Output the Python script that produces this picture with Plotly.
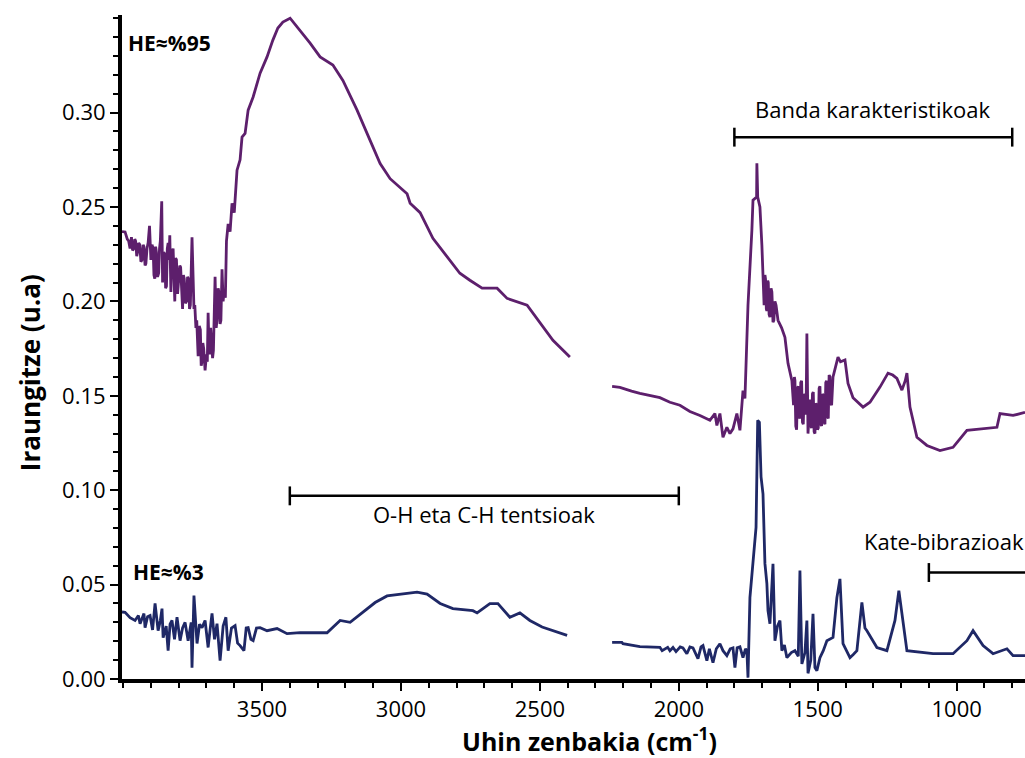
import plotly.graph_objects as go

# ---------------- data ----------------
# HE≈%95 spectrum (purple), segment 1 (4000 -> 2400 cm-1)
he95_wn_a = [4004, 3993, 3985, 3980, 3975, 3970, 3966, 3962, 3958, 3955, 3951, 3948, 3944, 3940, 3936,
             3932, 3928, 3925, 3921, 3918, 3914, 3910, 3905, 3900, 3896, 3892, 3889, 3886, 3883, 3880,
             3876, 3872, 3869, 3866, 3861, 3858, 3854, 3850, 3847, 3844, 3841, 3838, 3835, 3832, 3828,
             3824, 3820, 3817, 3814, 3811, 3808, 3804, 3800, 3796, 3793, 3789, 3786, 3783, 3780, 3776,
             3772, 3768, 3765, 3761, 3758, 3752, 3748, 3745, 3742, 3738, 3735, 3730, 3726, 3722, 3719,
             3716, 3713, 3710, 3705, 3700, 3697, 3694, 3691, 3688, 3685, 3682, 3678, 3675, 3669, 3665,
             3662, 3658, 3655, 3651, 3648, 3644, 3640, 3637, 3632, 3628, 3622, 3615, 3608, 3600, 3590,
             3579, 3572, 3561, 3550, 3532, 3507, 3482, 3461, 3443, 3425, 3399, 3363, 3327, 3291, 3245,
             3209, 3158, 3122, 3075, 3039, 2978, 2967, 2931, 2885, 2834, 2788, 2752, 2708, 2654, 2618,
             2546, 2500, 2453, 2392]
he95_ab_a = [0.237, 0.2368, 0.233, 0.232, 0.228, 0.234, 0.227, 0.228, 0.233, 0.232, 0.224, 0.226, 0.231, 0.230, 0.221,
             0.222, 0.230, 0.229, 0.219, 0.220, 0.228, 0.231, 0.240, 0.222, 0.230, 0.228, 0.214, 0.212, 0.229, 0.226,
             0.213, 0.215, 0.228, 0.232, 0.253, 0.210, 0.226, 0.225, 0.207, 0.208, 0.228, 0.231, 0.222, 0.235, 0.205,
             0.226, 0.228, 0.203, 0.200, 0.223, 0.222, 0.204, 0.210, 0.219, 0.218, 0.199, 0.196, 0.214, 0.212, 0.199,
             0.200, 0.213, 0.212, 0.196, 0.198, 0.234, 0.204, 0.196, 0.198, 0.186, 0.190, 0.171, 0.187, 0.185, 0.166,
             0.168, 0.178, 0.175, 0.1635, 0.172, 0.168, 0.194, 0.176, 0.172, 0.186, 0.180, 0.170, 0.174, 0.213, 0.186,
             0.190, 0.207, 0.205, 0.188, 0.190, 0.217, 0.200, 0.205, 0.202, 0.232, 0.241, 0.237, 0.252, 0.247, 0.2695,
             0.275, 0.287, 0.289, 0.3013, 0.3083, 0.3209, 0.3295, 0.3384, 0.3448, 0.348, 0.350, 0.3437, 0.3368, 0.3295, 0.3252,
             0.317, 0.3013, 0.289, 0.273, 0.265, 0.257, 0.252, 0.247, 0.2334, 0.2236, 0.2149, 0.2112, 0.207, 0.207, 0.2016,
             0.198, 0.189, 0.1794, 0.1705]

# HE≈%95 spectrum (purple), segment 2 (2250 -> 750 cm-1)
he95_wn_b = [2240, 2212, 2170, 2140, 2068, 2032, 1996, 1960, 1924, 1888, 1870, 1863, 1852, 1841, 1827,
             1816, 1805, 1791, 1780, 1773, 1769, 1762, 1758, 1751, 1737, 1733, 1720, 1719, 1716, 1708,
             1701, 1697, 1693, 1690, 1688, 1685, 1683, 1680, 1678, 1675, 1672, 1668, 1665, 1661, 1658,
             1654, 1650, 1643, 1630, 1618, 1607, 1593, 1590, 1587, 1584, 1582, 1579, 1576, 1573, 1570,
             1567, 1564, 1561, 1558, 1555, 1552, 1549, 1546, 1542, 1539, 1535, 1531, 1528, 1525, 1522,
             1519, 1516, 1513, 1510, 1507, 1504, 1501, 1498, 1495, 1492, 1489, 1486, 1483, 1480, 1477,
             1474, 1471, 1468, 1465, 1462, 1459, 1456, 1453, 1450, 1445, 1427, 1418, 1402, 1391, 1373,
             1337, 1312, 1276, 1247, 1230, 1215, 1197, 1185, 1179, 1168, 1143, 1107, 1060, 1013, 963,
             891, 855, 844, 797, 754]
he95_ab_b = [0.155, 0.1545, 0.1525, 0.1513, 0.149, 0.1466, 0.145, 0.1417, 0.1396, 0.137, 0.1406, 0.1343, 0.1406, 0.128, 0.1333,
             0.130, 0.1325, 0.1406, 0.1317, 0.1466, 0.1528, 0.1486, 0.1705, 0.198, 0.2377, 0.2536, 0.2553, 0.2732, 0.2553, 0.250,
             0.2299, 0.2128, 0.198, 0.214, 0.212, 0.196, 0.195, 0.211, 0.210, 0.193, 0.1917, 0.207, 0.205, 0.189, 0.190,
             0.200, 0.198, 0.190, 0.186, 0.181, 0.1672, 0.158, 0.147, 0.145, 0.160, 0.158, 0.134, 0.132, 0.154, 0.155,
             0.139, 0.138, 0.157, 0.158, 0.136, 0.135, 0.151, 0.150, 0.140, 0.183, 0.130, 0.146, 0.148, 0.134, 0.133,
             0.151, 0.152, 0.131, 0.130, 0.146, 0.145, 0.132, 0.133, 0.154, 0.155, 0.135, 0.134, 0.151, 0.150, 0.136,
             0.135, 0.157, 0.158, 0.139, 0.138, 0.161, 0.160, 0.146, 0.145, 0.160, 0.1705, 0.168, 0.169, 0.1566, 0.149,
             0.144, 0.1466, 0.1546, 0.162, 0.161, 0.1592, 0.153, 0.158, 0.162, 0.144, 0.128, 0.1237, 0.121, 0.1227, 0.1317,
             0.1327, 0.1333, 0.1406, 0.1396, 0.1412]

# HE≈%3 spectrum (navy), segment 1
he3_wn_a = [4004, 3993, 3975, 3957, 3945, 3939, 3925, 3921, 3912, 3903, 3894, 3885, 3874, 3866, 3860,
            3856, 3845, 3838, 3831, 3824, 3815, 3806, 3795, 3786, 3777, 3766, 3755, 3752, 3745, 3734,
            3725, 3716, 3705, 3694, 3687, 3680, 3671, 3662, 3651, 3640, 3630, 3622, 3610, 3597, 3588,
            3579, 3565, 3557, 3550, 3540, 3532, 3520, 3507, 3482, 3446, 3410, 3363, 3300, 3266, 3219,
            3183, 3093, 3050, 2942, 2906, 2859, 2813, 2741, 2726, 2680, 2651, 2608, 2572, 2536, 2492,
            2402]
he3_ab_a = [0.0355, 0.0353, 0.0325, 0.031, 0.0336, 0.0293, 0.0347, 0.0272, 0.033, 0.0336, 0.026, 0.040, 0.0256, 0.031, 0.0373,
            0.0219, 0.028, 0.015, 0.029, 0.031, 0.021, 0.0327, 0.0203, 0.027, 0.030, 0.0203, 0.030, 0.006, 0.0442, 0.0188,
            0.029, 0.0272, 0.031, 0.0167, 0.026, 0.0347, 0.021, 0.0293, 0.0097, 0.028, 0.0327, 0.015, 0.027, 0.0283, 0.019,
            0.0177, 0.015, 0.027, 0.0272, 0.021, 0.0203, 0.027, 0.0272, 0.0256, 0.0267, 0.024, 0.0246, 0.0245, 0.0245, 0.031,
            0.030, 0.0405, 0.044, 0.046, 0.045, 0.040, 0.0373, 0.0362, 0.035, 0.0399, 0.0399, 0.0327, 0.035, 0.031, 0.0275,
            0.0231]

# HE≈%3 spectrum (navy), segment 2
he3_wn_b = [2240, 2205, 2201, 2140, 2068, 2060, 2040, 2032, 2021, 2010, 1995, 1985, 1971, 1960, 1949,
            1931, 1920, 1913, 1899, 1890, 1877, 1865, 1852, 1841, 1827, 1815, 1805, 1798, 1790, 1780,
            1769, 1760, 1755, 1751, 1744, 1733, 1722, 1716, 1710, 1704, 1697, 1690, 1683, 1679, 1672,
            1663, 1661, 1654, 1645, 1636, 1629, 1620, 1611, 1595, 1582, 1570, 1564, 1557, 1550, 1546,
            1539, 1535, 1525, 1517, 1510, 1503, 1492, 1480, 1467, 1445, 1431, 1420, 1409, 1395, 1384,
            1372, 1359, 1341, 1330, 1323, 1287, 1251, 1222, 1208, 1197, 1179, 1085, 1013, 963, 941,
            905, 869, 819, 797, 754]
he3_ab_b = [0.0194, 0.0194, 0.0187, 0.0171, 0.0168, 0.015, 0.0168, 0.015, 0.0167, 0.0145, 0.017, 0.0165, 0.0134, 0.017, 0.0165,
            0.0108, 0.017, 0.0177, 0.0097, 0.016, 0.0086, 0.016, 0.0187, 0.015, 0.0124, 0.016, 0.0165, 0.006, 0.0165, 0.017,
            0.0113, 0.016, 0.015, 0.0007, 0.0431, 0.0601, 0.0803, 0.137, 0.136, 0.107, 0.0981, 0.0611, 0.0505, 0.0362, 0.0293,
            0.055, 0.061, 0.0203, 0.028, 0.031, 0.015, 0.018, 0.0113, 0.014, 0.015, 0.012, 0.0574, 0.008, 0.012, 0.014,
            0.031, 0.003, 0.010, 0.0345, 0.006, 0.0044, 0.0113, 0.015, 0.0203, 0.022, 0.0431, 0.053, 0.0187, 0.015, 0.0113,
            0.013, 0.015, 0.0406, 0.027, 0.0256, 0.0167, 0.015, 0.031, 0.0468, 0.0345, 0.015, 0.0134, 0.0134, 0.0203, 0.0256,
            0.0177, 0.0134, 0.016, 0.0124, 0.0124]

x_ticks = [3500, 3000, 2500, 2000, 1500, 1000]
y_ticks = [0.00, 0.05, 0.10, 0.15, 0.20, 0.25, 0.30]

# bracket annotations: (start, end, level)
band_bracket = (1800, 800, 0.287)
oh_bracket = (3400, 2000, 0.097)
kate_bracket = (1100, 650, 0.0564)

PURPLE = "#5d1f6c"
NAVY = "#1f2866"
FONT = "Open Sans"

fig = go.Figure()
for wn, ab, col in [(he95_wn_a, he95_ab_a, PURPLE), (he95_wn_b, he95_ab_b, PURPLE),
                    (he3_wn_a, he3_ab_a, NAVY), (he3_wn_b, he3_ab_b, NAVY)]:
    fig.add_trace(go.Scatter(x=wn, y=ab, mode="lines",
                             line=dict(color=col, width=2.8), showlegend=False,
                             hoverinfo="skip"))

# brackets
cap = 0.005
for (x0, x1, yl) in [band_bracket, oh_bracket, kate_bracket]:
    fig.add_shape(type="line", xref="x", yref="y", x0=x0, x1=x1, y0=yl, y1=yl,
                  line=dict(color="black", width=2.5))
    for xc in (x0, x1):
        fig.add_shape(type="line", xref="x", yref="y", x0=xc, x1=xc, y0=yl - cap, y1=yl + cap,
                      line=dict(color="black", width=2.5))

ann_font = dict(family=FONT, size=22, color="black")
fig.add_annotation(x=1300, y=0.302, xref="x", yref="y", text="Banda karakteristikoak",
                   showarrow=False, font=ann_font, xanchor="center", yanchor="middle")
fig.add_annotation(x=2700, y=0.0875, xref="x", yref="y", text="O-H eta C-H tentsioak",
                   showarrow=False, font=ann_font, xanchor="center", yanchor="middle")
fig.add_annotation(x=1340, y=0.0733, xref="x", yref="y", text="Kate-bibrazioak",
                   showarrow=False, font=ann_font, xanchor="left", yanchor="middle")

bold_font = dict(family=FONT, size=21, color="black")
fig.add_annotation(x=0.004, y=0.958, xref="paper", yref="paper", text="<b>HE≈%95</b>",
                   showarrow=False, font=bold_font, xanchor="left", yanchor="middle")
fig.add_annotation(x=0.010, y=0.161, xref="paper", yref="paper", text="<b>HE≈%3</b>",
                   showarrow=False, font=bold_font, xanchor="left", yanchor="middle")

# axis titles
fig.add_annotation(x=0.518, y=-0.0915, xref="paper", yref="paper",
                   text="<b>Uhin zenbakia (cm<sup>-1</sup>)</b>", showarrow=False,
                   font=dict(family=FONT, size=25, color="black"),
                   xanchor="center", yanchor="middle")
fig.add_annotation(x=-0.102, y=0.462, xref="paper", yref="paper",
                   text="<b>Iraungitze (u.a)</b>", showarrow=False, textangle=-90,
                   font=dict(family=FONT, size=26, color="black"),
                   xanchor="center", yanchor="middle")

fig.update_layout(
    width=1025, height=758,
    margin=dict(l=122, r=0, t=15, b=79),
    paper_bgcolor="white", plot_bgcolor="white",
    font=dict(family=FONT, size=22, color="black"),
    xaxis=dict(range=[4004, 754], showline=True, linewidth=4, linecolor="black",
               showgrid=False, zeroline=False, ticks="outside", ticklen=8, tickwidth=2,
               tickcolor="black", tickvals=x_ticks, ticktext=[str(v) for v in x_ticks],
               tickfont=dict(family=FONT, size=22, color="black"),
               minor=dict(dtick=100, tick0=0, ticks="outside", ticklen=5, tickwidth=2,
                          tickcolor="black", showgrid=False)),
    yaxis=dict(range=[0, 0.3517], showline=True, linewidth=4, linecolor="black",
               showgrid=False, zeroline=False, ticks="outside", ticklen=8, tickwidth=2,
               tickcolor="black", tickvals=y_ticks, ticktext=[f"{v:.2f}" for v in y_ticks],
               tickfont=dict(family=FONT, size=22, color="black"),
               minor=dict(dtick=0.01, tick0=0, ticks="outside", ticklen=5, tickwidth=2,
                          tickcolor="black", showgrid=False)),
)

fig.write_html("out.html")
